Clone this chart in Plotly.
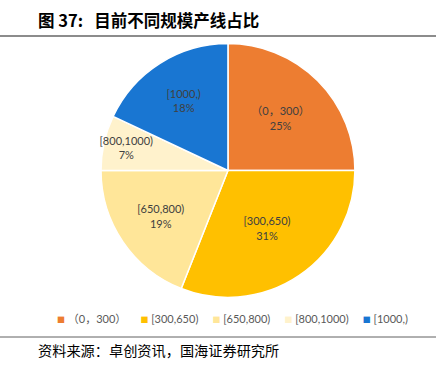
import plotly.graph_objects as go

categories = ["（0，300）", "[300,650)", "[650,800)", "[800,1000)", "[1000,)"]
shares = [25, 31, 19, 7, 18]
colors = ["#ED7D31", "#FFC000", "#FFE699", "#FFF2CC", "#1976D2"]

title_text = "图 37:\u00a0\u00a0\u00a0目前不同规模产线占比"
source_text = "资料来源：卓创资讯，国海证券研究所"

FONT = "Lato, Noto Sans CJK SC, sans-serif"

fig = go.Figure()
fig.add_trace(go.Pie(
    labels=categories,
    values=shares,
    sort=False,
    direction="clockwise",
    rotation=0,
    marker=dict(colors=colors, line=dict(color="white", width=1.5)),
    texttemplate="%{label}<br>%{value}%",
    textposition="inside",
    insidetextorientation="horizontal",
    textfont=dict(family=FONT, size=11, color="#404040"),
    domain=dict(x=[0.2317, 0.814], y=[0.186, 0.8825]),
    hoverinfo="label+percent",
    showlegend=False,
))

# compact legend built from the category / colour arrays
sep = "\u00a0" * 5
legend_html = sep.join(
    f'<span style="color:{c};font-size:8px">■</span>\u00a0{lab}'
    for lab, c in zip(categories, colors)
)

fig.update_layout(
    width=436, height=366,
    margin=dict(l=0, r=0, t=0, b=0, autoexpand=False),
    paper_bgcolor="white",
    uniformtext=dict(minsize=11, mode="show"),
    shapes=[
        dict(type="line", xref="paper", yref="paper", x0=0, x1=1, y0=1-36/366, y1=1-36/366,
             line=dict(color="#8c8c8c", width=2)),
        dict(type="line", xref="paper", yref="paper", x0=0, x1=1, y0=1-337/366, y1=1-337/366,
             line=dict(color="#606060", width=1)),
    ],
    annotations=[
        dict(text=f"<b>{title_text}</b>", xref="paper", yref="paper",
             x=36/436, y=1-20/366, xanchor="left", yanchor="middle", showarrow=False,
             font=dict(family="Noto Sans CJK SC", size=16.5, color="black")),
        dict(text=source_text, xref="paper", yref="paper",
             x=36/436, y=1-350/366, xanchor="left", yanchor="middle", showarrow=False,
             font=dict(family="Noto Sans CJK SC", size=14.2, color="black")),
        dict(text=legend_html, xref="paper", yref="paper",
             x=232/436, y=1-318/366, xanchor="center", yanchor="middle", showarrow=False,
             font=dict(family=FONT, size=11, color="#595959")),
    ],
)

fig.write_html("out.html", config={"displayModeBar": False},
               post_script="document.body.style.margin='0';")
